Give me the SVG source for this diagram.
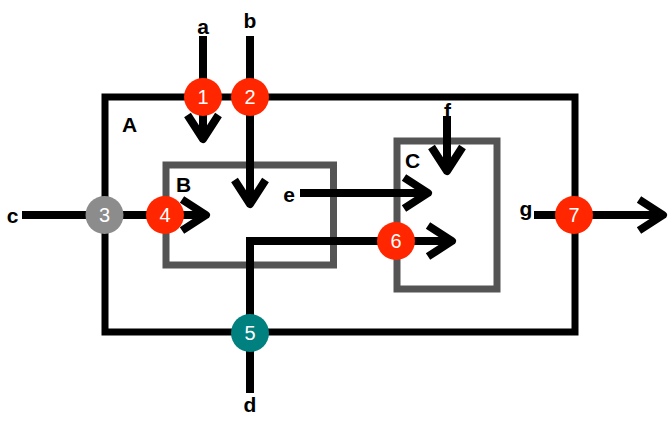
<svg xmlns="http://www.w3.org/2000/svg" width="669" height="422" viewBox="0 0 669 422">
<style>
.box{fill:none;stroke-width:7}
.outer{stroke:#000}
.inner{stroke:#545454}
.wire{fill:none;stroke:#000;stroke-width:8}
.lbl{font-family:"Liberation Sans",Arial,sans-serif;font-weight:bold;font-size:21px;fill:#000}
.num{font-family:"Liberation Sans",Arial,sans-serif;font-size:20px;fill:#fff;text-anchor:middle}
.red{fill:#ff2600}
</style>
<defs>
<marker id="chev" markerUnits="userSpaceOnUse" markerWidth="40" markerHeight="40" refX="0" refY="0" orient="auto" overflow="visible">
<path d="M-24,-15.5 L0,0 L-24,15.5" fill="none" stroke="#000" stroke-width="8" stroke-linejoin="round"/>
</marker>
</defs>
<rect width="669" height="422" fill="#fff"/>
<g id="A"><rect class="box outer" x="105" y="97" width="470" height="235"/><text class="lbl" x="122" y="132">A</text></g>
<g id="B"><rect class="box inner" x="166" y="165" width="167.5" height="100"/><text class="lbl" x="176" y="192">B</text></g>
<g id="C"><rect class="box inner" x="397" y="141" width="100" height="148"/><text class="lbl" x="405" y="168">C</text></g>
<g id="connectors">
<path class="wire" d="M203,36 V139" marker-end="url(#chev)"/>
<path class="wire" d="M250,36 V204" marker-end="url(#chev)"/>
<path class="wire" d="M22,215 H206" marker-end="url(#chev)"/>
<path class="wire" d="M250,393 V241 H452" marker-end="url(#chev)"/>
<path class="wire" d="M300,193 H428" marker-end="url(#chev)"/>
<path class="wire" d="M447,116 V171" marker-end="url(#chev)"/>
<path class="wire" d="M534,215 H663" marker-end="url(#chev)"/>
</g>
<g id="labels">
<text class="lbl" x="203" y="34" text-anchor="middle">a</text>
<text class="lbl" x="250" y="28" text-anchor="middle">b</text>
<text class="lbl" x="12.5" y="223" text-anchor="middle">c</text>
<text class="lbl" x="250" y="412" text-anchor="middle">d</text>
<text class="lbl" x="289" y="202" text-anchor="middle">e</text>
<text class="lbl" x="447.5" y="118" text-anchor="middle">f</text>
<text class="lbl" x="526" y="216" text-anchor="middle">g</text>
</g>
<g id="p1"><circle class="red" cx="203" cy="97" r="19"/><text class="num" x="203" y="104">1</text></g>
<g id="p2"><circle class="red" cx="250" cy="97" r="19"/><text class="num" x="250" y="104">2</text></g>
<g id="p3"><circle cx="104.5" cy="215" r="19" fill="#8c8c8c"/><text class="num" x="104.5" y="222">3</text></g>
<g id="p4"><circle class="red" cx="165" cy="215" r="19"/><text class="num" x="165" y="222">4</text></g>
<g id="p5"><circle cx="250" cy="333" r="19" fill="#00807f"/><text class="num" x="250" y="340">5</text></g>
<g id="p6"><circle class="red" cx="396" cy="241" r="19"/><text class="num" x="396" y="248">6</text></g>
<g id="p7"><circle class="red" cx="574" cy="215" r="19"/><text class="num" x="574" y="222">7</text></g>
</svg>
